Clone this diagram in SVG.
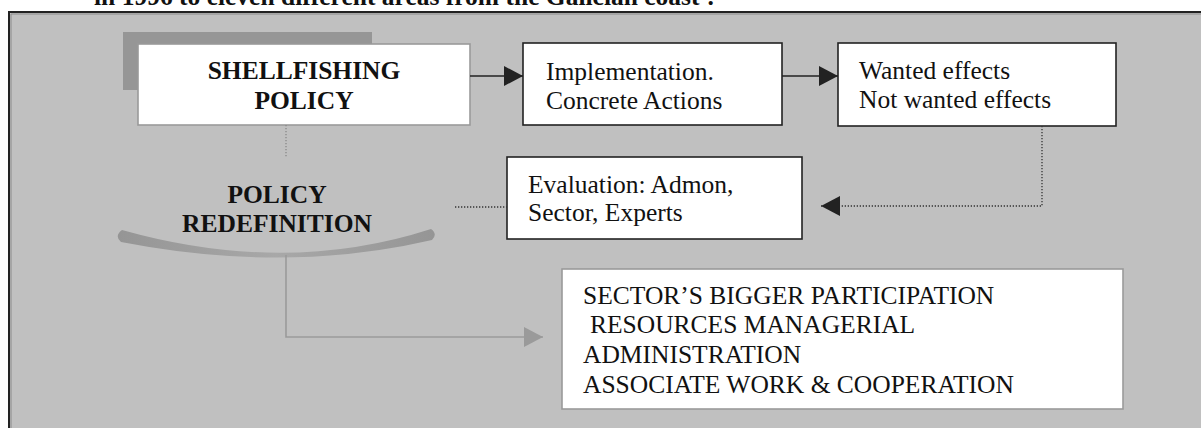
<svg xmlns="http://www.w3.org/2000/svg" width="1201" height="428" viewBox="0 0 1201 428">
<style>
.t{font-family:"Liberation Serif","Times New Roman",serif;font-size:25.5px;fill:#111}
.b{font-weight:bold}
.box{fill:#fff;stroke:#222;stroke-width:1.6}
.lbox{fill:#fff;stroke:#9a9a9a;stroke-width:1.6}
.dot{fill:none;stroke:#333;stroke-width:1.3;stroke-dasharray:1.3 1.7}
</style>
<defs>
<marker id="ah" markerWidth="19" markerHeight="20" refX="19" refY="10" orient="auto" markerUnits="userSpaceOnUse"><path d="M0,0 L19,10 L0,20 Z" fill="#222"/></marker>
<marker id="ahg" markerWidth="19" markerHeight="20" refX="19" refY="10" orient="auto" markerUnits="userSpaceOnUse"><path d="M0,0 L19,10 L0,20 Z" fill="#9a9a9a"/></marker>
<linearGradient id="bowl" x1="0" y1="0" x2="1" y2="0">
<stop offset="0" stop-color="#959595"/><stop offset="0.5" stop-color="#a8a8a8"/><stop offset="1" stop-color="#959595"/>
</linearGradient>
</defs>
<rect width="1201" height="428" fill="#fff"/>
<text class="t b" x="94" y="5" font-size="26">in 1996 to eleven different areas from the Galician coast<tspan font-size="16" baseline-shift="super">4</tspan>.</text>
<rect x="9" y="12" width="1210" height="430" fill="#c0c0c0" stroke="#222" stroke-width="2"/>
<path d="M11,440 V14 H1201" fill="none" stroke="#8a8a8a" stroke-width="1"/>

<g id="shellfishing">
<rect x="123" y="32" width="249" height="58" fill="#969696"/>
<rect class="lbox" x="138" y="44" width="332" height="81"/>
<text class="t b" x="304" y="79" text-anchor="middle">SHELLFISHING</text>
<text class="t b" x="304" y="109" text-anchor="middle">POLICY</text>
</g>

<g id="implementation">
<rect class="box" x="523" y="43" width="259" height="82"/>
<text class="t" x="546" y="80">Implementation.</text>
<text class="t" x="546" y="109">Concrete Actions</text>
</g>

<g id="effects">
<rect class="box" x="838" y="43" width="278" height="83"/>
<text class="t" x="859" y="79">Wanted effects</text>
<text class="t" x="859" y="108">Not wanted effects</text>
</g>

<g id="evaluation">
<rect class="box" x="507" y="157" width="295" height="82"/>
<text class="t" x="528" y="193">Evaluation: Admon,</text>
<text class="t" x="528" y="221">Sector, Experts</text>
</g>

<g id="redefinition">
<path d="M121,242 Q286,274 432,240 Q438,234 431,229 Q286,276 122,230 Q114,236 121,242 Z" fill="url(#bowl)"/>
<text class="t b" x="277" y="203" text-anchor="middle">POLICY</text>
<text class="t b" x="277" y="232" text-anchor="middle">REDEFINITION</text>
</g>

<g id="outcomes">
<rect class="lbox" x="562" y="269" width="561" height="140"/>
<text class="t" x="583" y="304">SECTOR’S BIGGER PARTICIPATION</text>
<text class="t" x="590" y="333">RESOURCES MANAGERIAL</text>
<text class="t" x="583" y="363">ADMINISTRATION</text>
<text class="t" x="583" y="393">ASSOCIATE WORK &amp; COOPERATION</text>
</g>

<g id="connectors">
<line x1="470" y1="76" x2="523" y2="76" stroke="#222" stroke-width="1.6" marker-end="url(#ah)"/>
<line x1="782" y1="76" x2="838" y2="76" stroke="#222" stroke-width="1.6" marker-end="url(#ah)"/>
<path class="dot" d="M1042,126 V206 H821" marker-end="url(#ah)"/>
<line class="dot" x1="455" y1="207" x2="507" y2="207"/>
<line x1="286" y1="125" x2="286" y2="158" stroke="#888" stroke-width="1.3" stroke-dasharray="1.3 1.7"/>
<path d="M286,255 V337 H543" fill="none" stroke="#9a9a9a" stroke-width="1.6" marker-end="url(#ahg)"/>
</g>
</svg>
